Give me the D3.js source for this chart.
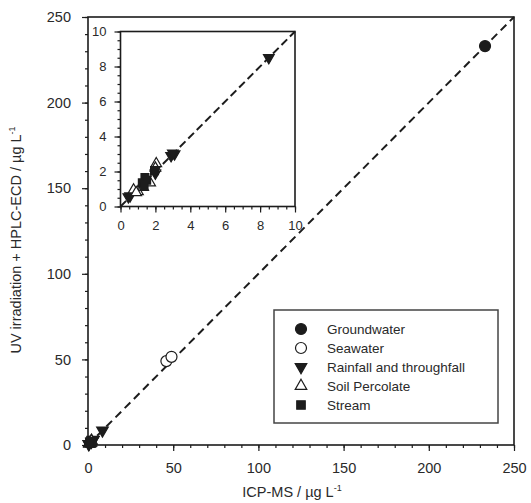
<!DOCTYPE html>
<html lang="en">
<head>
  <meta charset="UTF-8">
  <script src="https://d3js.org/d3.v7.min.js"></script>
  <title>UV irradiation + HPLC-ECD vs ICP-MS</title>
  <style>
    body { margin: 0; background: #fff; }
    svg { font-family: "Liberation Sans", Arial, sans-serif; }
    .axis text { fill: #2a2a2a; }
  </style>
</head>
<body>
  <svg width="531" height="503"></svg>
  <script>
    // values: [ICP-MS, UV + HPLC-ECD]
    const groundwater = [[233, 233]];
    const seawater = [[46, 49], [49, 51.5]];
    const rainfall = [[8.5, 8.5], [3.1, 3.0], [2.9, 2.9], [3.0, 3.05], [2.0, 1.9], [0.45, 0.55], [0.55, 0.6]];
    const soil = [[2.05, 2.45], [0.75, 0.95], [1.0, 0.85], [1.3, 1.1], [0.9, 0.8], [1.7, 1.35], [2.0, 2.2]];
    const stream = [[1.4, 1.65], [1.25, 1.35], [1.5, 1.5], [1.95, 2.05], [1.35, 1.2]];

    const seriesNames = ["Groundwater", "Seawater", "Rainfall and throughfall", "Soil Percolate", "Stream"];
    const mainTicks = [0, 50, 100, 150, 200, 250];
    const insetTicks = [0, 2, 4, 6, 8, 10];

    const series = [
      { name: seriesNames[0], data: groundwater, type: d3.symbolCircle, size: 95, fill: "#1c1c1c", rot: 0 },
      { name: seriesNames[1], data: seawater, type: d3.symbolCircle, size: 95, fill: "#fff", rot: 0 },
      { name: seriesNames[2], data: rainfall, type: d3.symbolTriangle, size: 58, fill: "#1c1c1c", rot: 180 },
      { name: seriesNames[3], data: soil, type: d3.symbolTriangle, size: 58, fill: "#fff", rot: 0 },
      { name: seriesNames[4], data: stream, type: d3.symbolSquare, size: 72, fill: "#1c1c1c", rot: 0 }
    ];

    const svg = d3.select("svg");
    const ink = "#1c1c1c";

    // draws one square panel: frame, ticks, 1:1 line and points
    const panel = (x, y, ticks, minorStep, fontSize, dash, markerScale, padX, padY) => {
      const max = ticks[ticks.length - 1];
      const g = svg.append("g");

      g.append("rect")
        .attr("x", x.range()[0]).attr("y", y.range()[1])
        .attr("width", x.range()[1] - x.range()[0])
        .attr("height", y.range()[0] - y.range()[1])
        .style("fill", "white").style("stroke", ink).style("stroke-width", "1.6px");

      const minor = d3.range(0, max + minorStep / 2, minorStep);

      g.append("g").attr("class", "axis")
        .attr("transform", `translate(0,${y.range()[0]})`)
        .call(d3.axisBottom(x).tickValues(minor).tickSize(3).tickFormat(""))
        .call(a => a.select(".domain").remove());
      g.append("g").attr("class", "axis")
        .attr("transform", `translate(0,${y.range()[0]})`)
        .call(d3.axisBottom(x).tickValues(ticks).tickSize(6).tickPadding(padX))
        .call(a => a.select(".domain").remove())
        .selectAll("text").style("font-size", fontSize + "px");

      g.append("g").attr("class", "axis")
        .attr("transform", `translate(${x.range()[0]},0)`)
        .call(d3.axisLeft(y).tickValues(minor).tickSize(3).tickFormat(""))
        .call(a => a.select(".domain").remove());
      g.append("g").attr("class", "axis")
        .attr("transform", `translate(${x.range()[0]},0)`)
        .call(d3.axisLeft(y).tickValues(ticks).tickSize(6).tickPadding(padY))
        .call(a => a.select(".domain").remove())
        .selectAll("text").style("font-size", fontSize + "px");

      g.selectAll(".axis line").style("stroke", ink).style("stroke-width", "1.2px");

      g.append("line")
        .attr("x1", x(0)).attr("y1", y(0))
        .attr("x2", x(max)).attr("y2", y(max))
        .style("stroke", ink).style("stroke-width", "2px")
        .style("stroke-dasharray", dash);

      series.forEach(s => {
        g.selectAll(null)
          .data(s.data.filter(d => d[0] <= max && d[1] <= max))
          .enter()
          .append("path")
          .attr("d", d3.symbol().type(s.type).size(s.size * markerScale))
          .attr("transform", d => `translate(${x(d[0])},${y(d[1])}) rotate(${s.rot})`)
          .style("fill", s.fill).style("stroke", ink).style("stroke-width", "1.2px");
      });
      return g;
    };

    const xMain = d3.scaleLinear().domain([0, 250]).range([88, 514]);
    const yMain = d3.scaleLinear().domain([0, 250]).range([445, 17]);
    panel(xMain, yMain, mainTicks, 10, 14.5, "8,5", 1, 12, 11);

    const xIn = d3.scaleLinear().domain([0, 10]).range([120.5, 295]);
    const yIn = d3.scaleLinear().domain([0, 10]).range([206.5, 31.5]);
    panel(xIn, yIn, insetTicks, 0.5, 13, "8,4", 0.85, 8, 8);

    // axis titles
    const xt = svg.append("text")
      .attr("x", 292).attr("y", 497)
      .attr("text-anchor", "middle")
      .style("font-size", "14.5px").style("fill", "#2a2a2a")
      .text("ICP-MS / µg L");
    xt.append("tspan").attr("dy", -6).style("font-size", "9px").text("-1");

    const yt = svg.append("text")
      .attr("transform", "translate(21,240) rotate(-90)")
      .attr("text-anchor", "middle")
      .style("font-size", "14.5px").style("fill", "#2a2a2a")
      .text("UV irradiation + HPLC-ECD / µg L");
    yt.append("tspan").attr("dy", -6).style("font-size", "9px").text("-1");

    // legend
    const legend = svg.append("g");
    legend.append("rect")
      .attr("x", 274).attr("y", 310).attr("width", 224).attr("height", 113)
      .style("fill", "white").style("stroke", "#444").style("stroke-width", "1.5px");

    legend.selectAll("g.item")
      .data(series)
      .enter()
      .append("g")
      .attr("class", "item")
      .attr("transform", (d, i) => `translate(301, ${329 + i * 19})`)
      .each(function(d) {
        d3.select(this).append("path")
          .attr("d", d3.symbol().type(d.type).size(d.size))
          .attr("transform", `rotate(${d.rot})`)
          .style("fill", d.fill).style("stroke", ink).style("stroke-width", "1.2px");
        d3.select(this).append("text")
          .attr("x", 26).attr("dy", "0.36em")
          .style("font-size", "13.5px").style("fill", "#2a2a2a")
          .text(d.name);
      });
  </script>
</body>
</html>
